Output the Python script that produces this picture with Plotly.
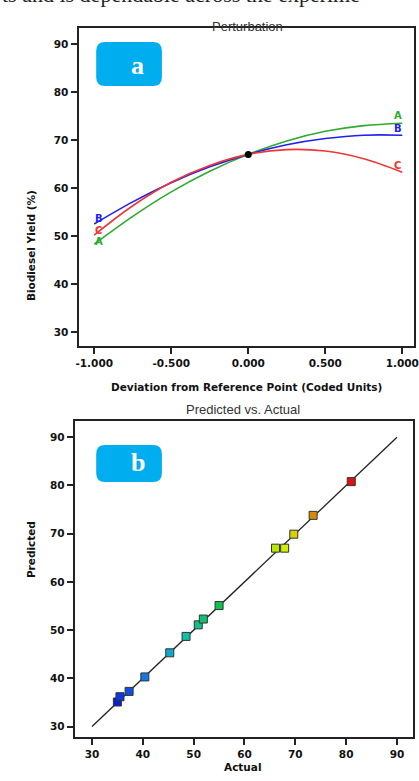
import plotly.graph_objects as go

W, H = 419, 781

# ---------------- data ----------------
dev_x = [-1.0, -0.75, -0.5, -0.25, 0.0, 0.25, 0.5, 0.75, 1.0]
yield_A = [48.3, 54.1, 59.2, 63.5, 67.0, 69.8, 71.8, 73.0, 73.5]
yield_B = [52.5, 57.1, 61.1, 64.4, 67.0, 69.0, 70.3, 71.0, 71.0]
yield_C = [50.2, 56.3, 61.2, 64.7, 67.0, 68.0, 67.7, 66.1, 63.3]
ref_point = (0.0, 67.0)

actual = [35.0, 35.5, 37.3, 40.4, 45.3, 48.5, 50.9, 51.9, 55.0, 66.1, 67.9, 69.7, 73.5, 81.0]
predicted = [35.1, 36.2, 37.3, 40.3, 45.3, 48.7, 51.1, 52.3, 55.1, 67.0, 67.0, 69.9, 73.8, 80.8]
point_colors = ["#0a1ed8", "#1038e0", "#1050e0", "#1478e0", "#10a8c8", "#10c0a8",
                "#10c088", "#10c070", "#10c050", "#b8e800", "#d0f000", "#d8d000",
                "#d88a00", "#e01010"]

ticks_a_x = [-1.0, -0.5, 0.0, 0.5, 1.0]
ticks_a_x_text = ["-1.000", "-0.500", "0.000", "0.500", "1.000"]
ticks_y = [30, 40, 50, 60, 70, 80, 90]
ticks_b_x = [30, 40, 50, 60, 70, 80, 90]


def px(x):
    return x / W


def py(y):
    return 1 - y / H


fig = go.Figure()

# panel a curves
for ys, col in [(yield_A, "#2eaa2e"), (yield_B, "#2020ee"), (yield_C, "#f03535")]:
    fig.add_trace(go.Scatter(x=dev_x, y=ys, mode="lines", line=dict(color=col, width=1.6, shape="spline"),
                             xaxis="x", yaxis="y", showlegend=False, hoverinfo="skip"))
fig.add_trace(go.Scatter(x=[ref_point[0]], y=[ref_point[1]], mode="markers",
                         marker=dict(color="black", size=7), xaxis="x", yaxis="y", showlegend=False))

# curve end labels
lab_font = dict(family="DejaVu Sans", size=10, weight="bold")
end_labels = [
    ("A", "#2eaa2e", dev_x[0], yield_A[0] + 0.6, dev_x[-1], yield_A[-1] + 1.7),
    ("B", "#2020ee", dev_x[0], yield_B[0] + 1.1, dev_x[-1], yield_B[-1] + 1.3),
    ("C", "#f03535", dev_x[0], yield_C[0] + 0.9, dev_x[-1], yield_C[-1] + 1.3),
]
annotations = []
for t, c, x0, y0, x1, y1 in end_labels:
    annotations.append(dict(x=x0 + 0.03, y=y0, xref="x", yref="y", text=t, showarrow=False,
                            font=dict(color=c, **lab_font)))
    annotations.append(dict(x=x1 - 0.03, y=y1, xref="x", yref="y", text=t, showarrow=False,
                            font=dict(color=c, **lab_font)))

# panel b
fig.add_trace(go.Scatter(x=[30, 90], y=[30, 90], mode="lines", line=dict(color="#222", width=1.3),
                         xaxis="x2", yaxis="y2", showlegend=False, hoverinfo="skip"))
fig.add_trace(go.Scatter(x=actual, y=predicted, mode="markers",
                         marker=dict(symbol="square", size=8, color=point_colors,
                                     line=dict(color="#333", width=1)),
                         xaxis="x2", yaxis="y2", showlegend=False))

tick_font = dict(family="DejaVu Sans", size=10.5, color="#111", weight="bold")
axis_common = dict(showline=True, linecolor="#222", linewidth=2, mirror=True, ticks="outside",
                   ticklen=6, tickwidth=1.5, tickcolor="#222", showgrid=False, zeroline=False,
                   tickfont=tick_font, ticklabeloverflow="allow")

# badges
def rounded_rect(x0, y0, x1, y1, r):
    X = lambda v: px(v)
    Y = lambda v: py(v)
    return (f"M {X(x0 + r)},{Y(y0)} L {X(x1 - r)},{Y(y0)} Q {X(x1)},{Y(y0)} {X(x1)},{Y(y0 + r)} "
            f"L {X(x1)},{Y(y1 - r)} Q {X(x1)},{Y(y1)} {X(x1 - r)},{Y(y1)} "
            f"L {X(x0 + r)},{Y(y1)} Q {X(x0)},{Y(y1)} {X(x0)},{Y(y1 - r)} "
            f"L {X(x0)},{Y(y0 + r)} Q {X(x0)},{Y(y0)} {X(x0 + r)},{Y(y0)} Z")

shapes = [
    dict(type="path", xref="paper", yref="paper", path=rounded_rect(95, 42, 162, 86, 9),
         fillcolor="#00aeef", line=dict(width=0), layer="above"),
    dict(type="path", xref="paper", yref="paper", path=rounded_rect(95, 445, 162, 482, 9),
         fillcolor="#00aeef", line=dict(width=0), layer="above"),
]
badge_font = dict(family="Liberation Serif", size=26, color="white", weight="bold")
annotations += [
    dict(x=px(128), y=py(49), xref="paper", yref="paper", text="a", showarrow=False, font=badge_font),
    dict(x=px(128), y=py(462), xref="paper", yref="paper", text="b", showarrow=False, font=badge_font),
]

title_font = dict(family="Liberation Sans", size=13, color="#333")
axt_font = dict(family="DejaVu Sans", size=10.5, color="#111", weight="bold")
annotations += [
    dict(x=px(-3), y=py(9.5), xref="paper", yref="paper", xanchor="left", yanchor="bottom",
         text="ts and is dependable across the experime", showarrow=False,
         font=dict(family="Liberation Serif", size=22, color="#222")),
    dict(x=px(249), y=py(17), xref="paper", yref="paper", text="Perturbation", showarrow=False, font=title_font),
    dict(x=px(245), y=py(410), xref="paper", yref="paper", text="Predicted vs. Actual", showarrow=False, font=title_font),
    dict(x=px(20), y=py(188), xref="paper", yref="paper", text="Biodiesel Yield (%)", textangle=-90,
         showarrow=False, font=axt_font),
    dict(x=px(248), y=py(387), xref="paper", yref="paper", text="Deviation from Reference Point (Coded Units)",
         showarrow=False, font=axt_font),
    dict(x=px(20), y=py(580), xref="paper", yref="paper", text="Predicted", textangle=-90,
         showarrow=False, font=axt_font),
    dict(x=px(245), y=py(775), xref="paper", yref="paper", text="Actual", showarrow=False, font=axt_font),
]

fig.update_layout(
    width=W, height=H, margin=dict(l=0, r=0, t=0, b=0),
    paper_bgcolor="white", plot_bgcolor="white",
    xaxis=dict(domain=[px(77), 1.0], range=[-1.102, 1.076], tickvals=ticks_a_x, ticktext=ticks_a_x_text,
               anchor="y", **axis_common),
    yaxis=dict(domain=[py(346), py(28)], range=[27.08, 93.33], tickvals=ticks_y, anchor="x", **axis_common),
    xaxis2=dict(domain=[px(73), px(418)], range=[26.58, 93.15], tickvals=ticks_b_x, anchor="y2", **axis_common),
    yaxis2=dict(domain=[py(737), py(421)], range=[27.84, 93.37], tickvals=ticks_y, anchor="x2", **axis_common),
    shapes=shapes, annotations=annotations,
)

fig.write_html("out.html")
